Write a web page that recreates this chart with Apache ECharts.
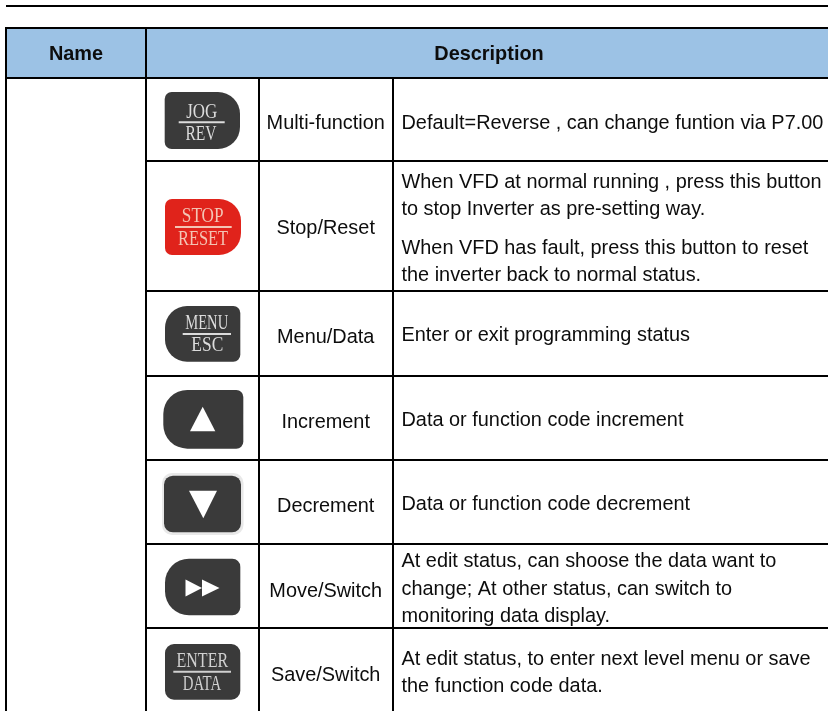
<!DOCTYPE html>
<html><head><meta charset="utf-8">
<style>html,body{margin:0;padding:0;background:#fff}#c{width:828px;height:711px}</style>
<script src="https://cdn.jsdelivr.net/npm/echarts@6/dist/echarts.min.js"></script>
</head><body><div id="c"></div>
<script>
const headers = ["Name", "Description"];
const functionNames = ["Multi-function","Stop/Reset","Menu/Data","Increment","Decrement","Move/Switch","Save/Switch"];
const descriptions = [
  ["Default=Reverse , can change funtion via P7.00"],
  ["When VFD at normal running , press this button","to stop Inverter as pre-setting way.","When VFD has fault, press this button to reset","the inverter back to normal status."],
  ["Enter or exit programming status"],
  ["Data or function code increment"],
  ["Data or function code decrement"],
  ["At edit status, can shoose the data want to","change; At other status, can switch to","monitoring data display."],
  ["At edit status, to enter next level menu or save","the function code data."]
];
const descriptionY = [[124],[183,210,249,276],[336],[421],[505],[562,590,617],[660,687]];
const functionY = [124,229,338,423,507,592,676];
const rowLines = [78,161,291,376,460,544,628];
const columnLines = [146,259,393];
const FONT = '"Liberation Sans", Arial, sans-serif';
const SERIF = '"Liberation Serif", "Times New Roman", serif';
const INK = '#0d0d0d';
const DARK = '#3a3a3a';
const g = [];
const rect = (x,y,w,h,fill,r) => g.push({type:'rect',silent:true,shape:{x,y,width:w,height:h,r:r||0},style:{fill}});
const poly = (pts,fill) => g.push({type:'polygon',silent:true,shape:{points:pts},style:{fill}});
const text = (t,x,y,o) => g.push({type:'text',silent:true,x,y,scaleX:(o&&o.sx)||1,style:Object.assign({text:t,x:0,y:0,fill:INK,font:'19.9px '+FONT,textAlign:'left',textVerticalAlign:'middle'},(o&&o.style)||{})});

// header band
rect(6,29,822,48,'#9cc2e5');
// rules
rect(6,5,822,2,'#000');
rect(5,27,823,2,'#000');
rect(5,27,2,684,'#000');
rect(145,27,2,684,'#000');
rowLines.forEach((y,i)=>{ if(i===0) rect(5,y-1,823,2,'#000'); else rect(146,y-1,682,2,'#000'); });
columnLines.slice(1).forEach(x=>rect(x-1,78,2,633,'#000'));

// header text
text(headers[0],76,55,{style:{font:'bold 19.9px '+FONT,textAlign:'center'}});
text(headers[1],489,55,{style:{font:'bold 19.9px '+FONT,textAlign:'center'}});

// names & descriptions
functionNames.forEach((n,i)=>text(n,325.7,functionY[i],{style:{textAlign:'center'}}));
descriptions.forEach((lines,i)=>lines.forEach((l,j)=>text(l,401.5,descriptionY[i][j])));

// buttons
const keyLabel = (top,bottom,lineY,x0,x1,col) => {
  rect(x0,lineY-1,x1-x0,2,col);
  const st=(size)=>({font:size+'px '+SERIF,fill:col,textAlign:'center'});
  text(top.t,top.x,top.y,{sx:top.sx,style:st(top.size)});
  text(bottom.t,bottom.x,bottom.y,{sx:bottom.sx,style:st(bottom.size)});
};
rect(164.7,92,75.3,57,DARK,[7,22,22,7]);
keyLabel({t:'JOG',x:201.7,y:112,sx:0.77,size:22},{t:'REV',x:201,y:134,sx:0.74,size:21},122.3,178.7,224.7,'#dcdcdc');
rect(165,199,76,56,'#e0231b',[7,22,22,7]);
keyLabel({t:'STOP',x:202.7,y:217,sx:0.86,size:20},{t:'RESET',x:203,y:239.5,sx:0.82,size:20},227,175,231.7,'#f3c4b4');
rect(165,306,75.3,55.7,DARK,[22,7,7,22]);
keyLabel({t:'MENU',x:206.7,y:323.5,sx:0.73,size:20},{t:'ESC',x:207.3,y:346,sx:0.87,size:20},334,182.7,231,'#dcdcdc');
rect(163.3,390,80,58.7,DARK,[24,7,7,24]);
poly([[202.7,406.7],[215.3,431.3],[190,431.3]],'#fff');
rect(162,473,81.5,62,'#e8e8e8',10);
rect(164,475.7,77,56.6,DARK,9);
poly([[189,490.7],[217,490.7],[203.3,518.3]],'#fff');
rect(165,558.7,75.3,56.6,DARK,[24,8,8,24]);
poly([[185.5,579.5],[202,588],[185.5,596.5]],'#fff');
poly([[202,579.5],[219.5,588],[202,596.5]],'#fff');
rect(165,644,75.3,55.7,DARK,9);
keyLabel({t:'ENTER',x:202.3,y:662,sx:0.8,size:20},{t:'DATA',x:202,y:684.5,sx:0.74,size:20},671.7,173.3,231,'#d0d0d0');

const chart = echarts.init(document.getElementById('c'),null,{renderer:'canvas'});
chart.setOption({animation:false,backgroundColor:'#fff',graphic:{elements:g}});
</script></body></html>
